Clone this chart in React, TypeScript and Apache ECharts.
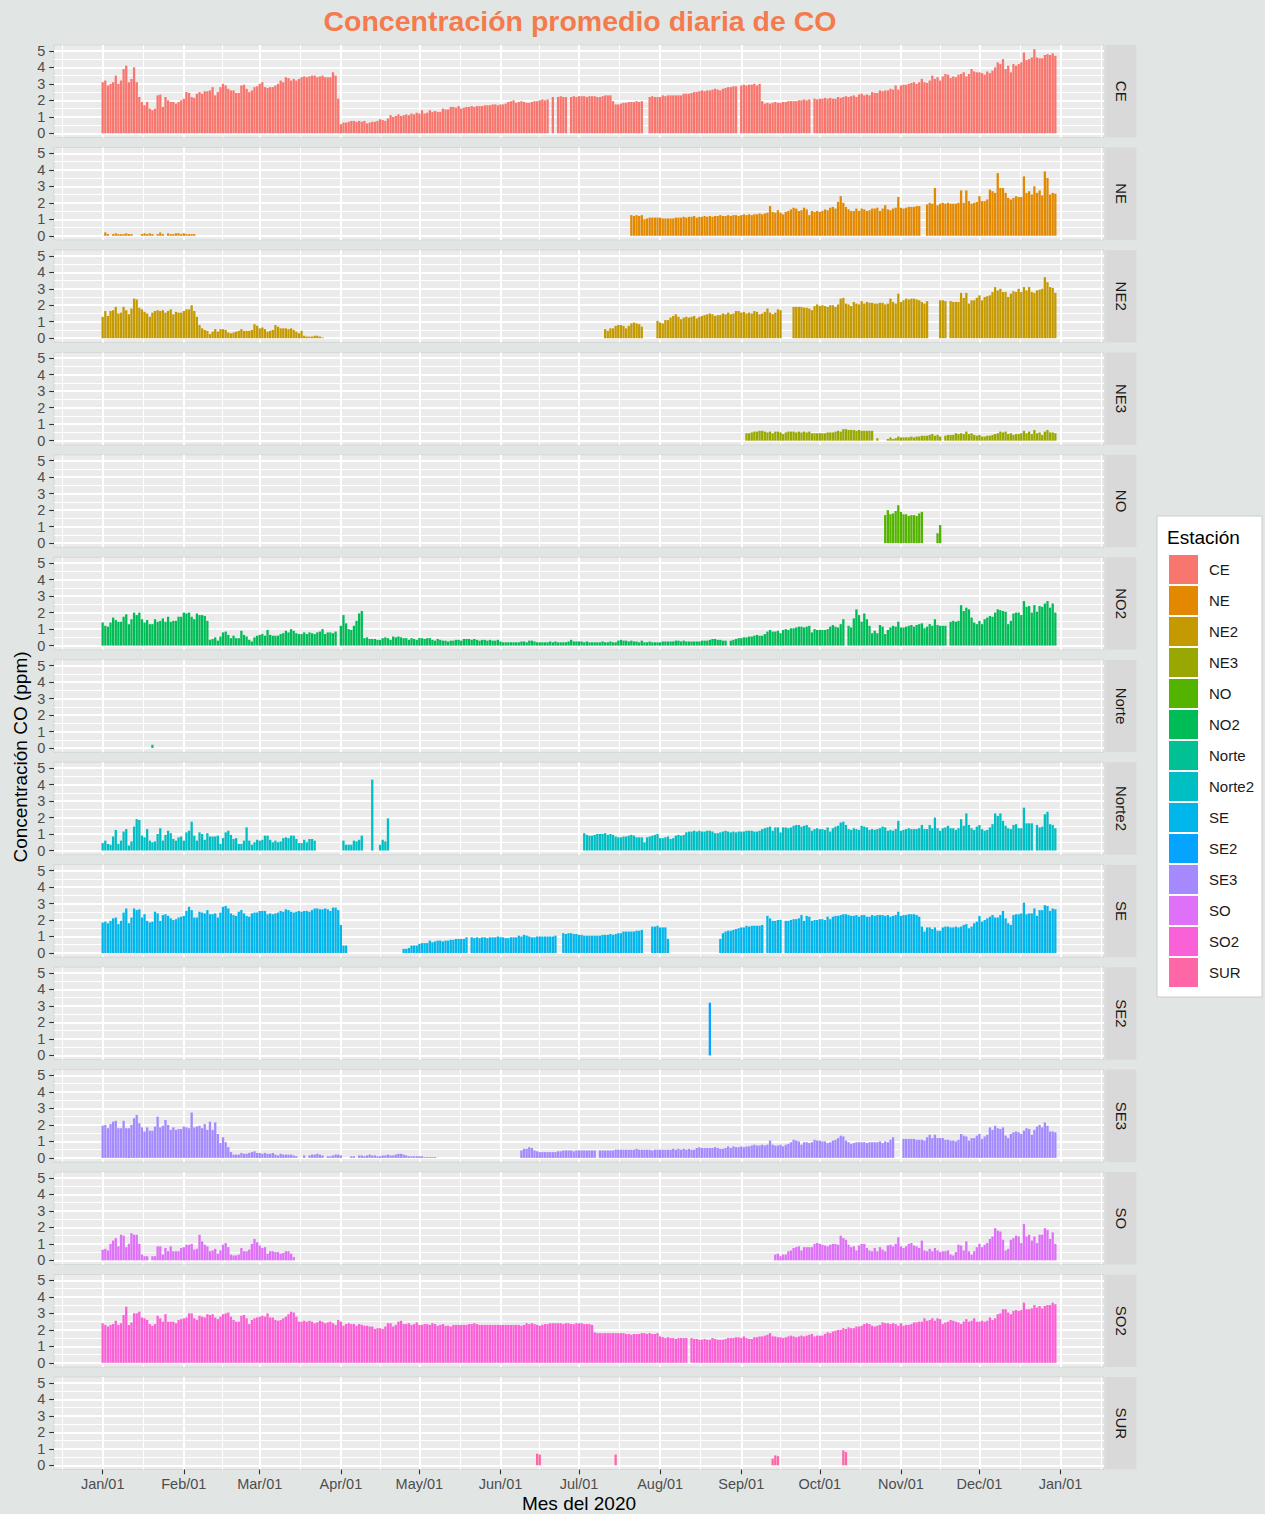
import React, { useEffect, useRef } from "react";
import * as echarts from "echarts";

// ---------- axes / categories ----------
const STATIONS = ["CE", "NE", "NE2", "NE3", "NO", "NO2", "Norte", "Norte2", "SE", "SE2", "SE3", "SO", "SO2", "SUR"];
const COLORS = ["#F8766D", "#E38900", "#C49A00", "#99A800", "#53B400", "#00BC56", "#00C094", "#00BFC4", "#00B6EB", "#06A4FF", "#A58AFF", "#DF70F8", "#FB61D7", "#FF66A8"];
const MONTH_LEN = [31, 29, 31, 30, 31, 30, 31, 31, 30, 31, 30, 31];
const MONTH_TICKS = [0, 31, 60, 91, 121, 152, 182, 213, 244, 274, 305, 335, 366];
const MONTH_LABELS = ["Jan/01", "Feb/01", "Mar/01", "Apr/01", "May/01", "Jun/01", "Jul/01", "Aug/01", "Sep/01", "Oct/01", "Nov/01", "Dec/01", "Jan/01"];
const MINOR_TICKS = [-15.5, 15.5, 45.5, 75.5, 106, 136.5, 167, 197.5, 228.5, 259, 289.5, 320, 350.5, 381.5];
const Y_TICKS = [0, 1, 2, 3, 4, 5];
const Y_MINOR = [0.5, 1.5, 2.5, 3.5, 4.5];

// ---------- daily values (ppm), one string per month, "_" = no data, "_N" = N days without data ----------
const CE = [
  "3.1 3.2 2.9 3.0 3.1 3.5 3.0 3.2 3.9 4.1 3.1 3.3 4.0 3.1 2.2 1.9 1.7 1.9 1.5 1.4 1.5 2.3 2.35 1.6 2.2 2.0 1.9 1.9 1.8 1.9 2.0",
  "2.1 2.5 2.45 2.2 2.15 2.4 2.5 2.4 2.55 2.55 2.6 2.8 2.3 2.5 2.8 3.0 2.9 2.7 2.6 2.6 2.45 2.45 2.9 2.95 2.7 2.5 2.6 2.8 2.85",
  "3.0 3.1 2.8 2.75 2.8 2.8 2.9 3.0 3.2 3.1 3.4 3.35 3.2 3.3 3.2 3.3 3.4 3.45 3.4 3.45 3.5 3.5 3.4 3.45 3.5 3.4 3.4 3.4 3.7 3.5 2.1",
  "0.55 0.65 0.65 0.7 0.75 0.75 0.7 0.75 0.7 0.75 0.6 0.65 0.7 0.7 0.75 0.85 0.8 0.75 0.9 1.1 1.0 1.05 1.15 1.05 1.1 1.15 1.1 1.2 1.15 1.25",
  "1.2 1.4 1.2 1.25 1.4 1.3 1.35 1.3 1.3 1.5 1.45 1.45 1.6 1.6 1.55 1.65 1.5 1.55 1.6 1.6 1.65 1.6 1.65 1.65 1.65 1.7 1.7 1.7 1.75 1.75 1.7",
  "1.75 1.75 1.8 1.9 1.95 2.0 1.85 1.9 1.95 1.9 1.85 1.85 1.9 1.95 1.95 2.0 2.05 2.0 2.05 _ 2.2 _ 2.2 2.25 2.2 2.2 _ 2.2 2.25 2.2",
  "2.25 2.25 2.25 2.2 2.25 2.25 2.25 2.2 2.2 2.25 2.3 2.3 2.3 1.95 1.75 1.75 1.8 1.85 1.85 1.9 1.9 1.9 1.95 1.9 1.95 _ _ 2.2 2.25 2.2 2.2",
  "2.2 2.3 2.25 2.3 2.3 2.3 2.3 2.3 2.3 2.4 2.4 2.4 2.45 2.5 2.5 2.55 2.6 2.55 2.6 2.6 2.65 2.7 2.65 2.6 2.7 2.75 2.8 2.8 2.85 2.85 _",
  "2.9 2.95 2.9 2.95 2.95 3.0 2.9 3.0 1.95 1.8 1.85 1.8 1.85 1.9 1.85 1.85 1.9 1.9 1.95 1.95 1.95 1.95 2.0 2.0 2.05 2.0 2.05 _ 2.1 2.05",
  "2.1 2.1 2.15 2.1 2.15 2.1 2.1 2.2 2.15 2.2 2.25 2.2 2.25 2.3 2.2 2.35 2.4 2.3 2.35 2.3 2.5 2.45 2.45 2.6 2.55 2.6 2.6 2.7 2.65 2.9 2.65",
  "2.9 2.95 2.95 3.0 3.05 3.1 3.0 3.1 3.3 3.1 3.05 3.2 3.5 3.3 3.4 3.2 3.45 3.6 3.55 3.35 3.45 3.4 3.55 3.6 3.7 3.45 3.6 3.9 3.75 3.7",
  "3.7 3.65 3.55 3.75 3.65 3.8 4.0 4.3 4.2 4.5 3.9 4.1 3.7 4.2 4.1 4.2 4.3 4.9 4.45 4.5 4.6 5.1 4.6 4.55 4.55 4.75 4.8 4.75 4.85 4.7 _",
];
const NE = [
  "_ 0.2 0.1 _ 0.1 0.15 0.1 0.1 0.1 0.15 0.1 0.1 _ _ _ 0.1 0.15 0.1 0.15 0.1 _ 0.1 0.2 0.1 _ 0.15 0.1 0.1 0.15 0.15 0.1",
  "0.15 0.1 0.1 0.1 0.1 _24",
  "_", "_", "_", "_",
  "_20 1.25 1.2 1.25 1.2 1.25 1.0 1.05 1.1 1.1 1.1 1.1",
  "1.1 1.05 1.05 1.05 1.05 1.05 1.1 1.1 1.1 1.15 1.1 1.15 1.15 1.2 1.1 1.15 1.15 1.2 1.15 1.2 1.15 1.2 1.2 1.25 1.2 1.2 1.25 1.2 1.25 1.25 1.2",
  "1.25 1.3 1.25 1.3 1.25 1.3 1.3 1.35 1.3 1.35 1.4 1.8 1.45 1.4 1.55 1.4 1.3 1.45 1.5 1.6 1.7 1.65 1.5 1.55 1.7 1.6 1.25 1.5 1.45 1.5",
  "1.45 1.5 1.6 1.55 1.7 1.75 1.65 2.05 2.4 2.0 1.75 1.6 1.5 1.5 1.65 1.5 1.65 1.6 1.5 1.55 1.65 1.65 1.7 1.5 1.65 1.85 1.6 1.55 1.65 1.7 2.35",
  "1.7 1.65 1.7 1.75 1.75 1.75 1.8 1.8 _ _ 1.9 2.0 1.95 2.9 1.85 1.95 2.0 1.95 2.0 1.95 1.95 1.95 2.0 2.75 2.0 2.75 2.1 1.95 2.0 2.05",
  "2.4 2.1 2.1 2.2 2.8 2.7 2.6 3.8 2.9 2.9 2.6 2.3 2.2 2.3 2.4 2.35 2.35 3.6 2.6 2.7 2.5 3.0 2.6 2.75 2.45 3.9 3.5 2.5 2.6 2.55 _",
];
const NE2 = [
  "1.3 1.65 1.35 1.65 1.7 1.9 1.5 1.55 1.9 1.7 1.45 1.8 2.4 2.35 1.85 1.75 1.6 1.5 1.3 1.55 1.65 1.7 1.65 1.7 1.55 1.65 1.75 1.45 1.6 1.55 1.55",
  "1.65 1.75 1.75 2.0 1.65 1.3 0.8 0.6 0.5 0.45 0.25 0.4 0.55 0.4 0.55 0.55 0.5 0.35 0.3 0.35 0.4 0.45 0.55 0.45 0.45 0.45 0.5 0.85 0.75",
  "0.6 0.65 0.55 0.4 0.45 0.5 0.8 0.7 0.6 0.6 0.6 0.55 0.6 0.5 0.4 0.3 0.45 0.15 0.1 0.1 0.1 0.15 0.15 0.1 0.05 _6",
  "_", "_", "_",
  "_10 0.55 0.45 0.6 0.6 0.75 0.8 0.8 0.75 0.6 0.75 0.9 0.95 0.9 0.85 0.7 _5 1.05",
  "0.95 0.9 1.1 1.1 1.25 1.35 1.45 1.3 1.15 1.25 1.3 1.25 1.3 1.35 1.2 1.3 1.35 1.4 1.45 1.5 1.45 1.35 1.4 1.4 1.5 1.45 1.55 1.45 1.5 1.65 1.65",
  "1.55 1.6 1.5 1.55 1.5 1.65 1.6 1.45 1.5 1.6 1.8 1.55 1.45 1.55 1.75 1.7 _4 1.9 1.9 1.9 1.9 1.85 1.85 1.8 1.7 1.95 2.05",
  "1.95 2.0 1.95 1.9 2.0 2.0 1.9 2.05 2.4 2.45 2.1 2.05 1.95 2.2 2.1 2.05 2.25 2.1 2.2 2.15 2.15 2.1 2.1 2.15 2.15 2.05 2.1 2.4 2.2 2.1 2.7",
  "2.2 2.3 2.4 2.35 2.4 2.4 2.35 2.3 2.2 2.1 2.25 _4 2.3 2.3 2.25 _ 2.25 2.2 2.2 2.2 2.75 2.45 2.75 2.1 2.3 2.3 2.45",
  "2.6 2.3 2.5 2.55 2.6 2.8 3.1 2.9 3.0 2.8 2.8 2.5 2.7 2.85 2.8 3.0 2.8 3.1 2.9 3.1 2.8 2.75 2.9 2.95 3.0 3.7 3.4 3.1 3.05 2.75 _",
];
const NE3 = [
  "_", "_", "_", "_", "_", "_", "_", "_",
  "_ _ 0.45 0.45 0.5 0.55 0.55 0.6 0.6 0.55 0.5 0.55 0.45 0.55 0.55 0.5 0.4 0.5 0.55 0.55 0.55 0.5 0.55 0.5 0.55 0.5 0.55 0.45 0.45 0.45",
  "0.45 0.45 0.45 0.5 0.5 0.5 0.55 0.6 0.55 0.7 0.7 0.65 0.65 0.65 0.6 0.65 0.6 0.6 0.6 0.6 0.6 _ 0.15 _3 0.1 0.2 0.1 0.15 0.25",
  "0.2 0.2 0.2 0.2 0.25 0.2 0.25 0.25 0.3 0.3 0.3 0.35 0.4 0.3 0.35 0.25 _ 0.3 0.35 0.35 0.35 0.45 0.4 0.45 0.4 0.55 0.4 0.45 0.35 0.3",
  "0.35 0.25 0.25 0.3 0.3 0.35 0.4 0.45 0.55 0.5 0.55 0.4 0.45 0.35 0.4 0.4 0.45 0.6 0.45 0.55 0.4 0.65 0.45 0.5 0.35 0.55 0.65 0.5 0.5 0.45 _",
];
const NO = [
  "_", "_", "_", "_", "_", "_", "_", "_", "_",
  "_25 1.7 2.0 1.75 1.8 1.95 2.3",
  "1.9 1.75 1.75 1.65 1.7 1.7 1.65 1.8 1.9 _5 0.6 1.1",
  "_",
];
const NO2 = [
  "1.4 1.2 1.15 1.4 1.7 1.55 1.45 1.45 1.75 1.9 1.3 1.6 2.0 1.85 2.0 1.6 1.4 1.55 1.3 1.3 1.6 1.45 1.5 1.65 1.45 1.75 1.45 1.5 1.5 1.75 1.75",
  "2.0 1.95 2.0 1.75 1.6 1.95 1.85 1.85 1.8 1.5 0.35 0.4 0.5 0.3 0.55 0.8 0.85 0.65 0.45 0.6 0.45 0.45 0.9 0.65 0.55 0.35 0.25 0.5 0.6",
  "0.65 0.7 0.6 0.95 0.65 0.6 0.6 0.6 0.7 0.75 0.9 0.8 1.0 0.9 0.75 0.7 0.7 0.8 0.7 0.8 0.75 0.7 0.8 0.85 1.0 0.7 0.8 0.8 0.75 0.85 _",
  "1.2 1.85 1.35 1.0 0.95 1.2 1.5 1.95 2.1 0.45 0.5 0.4 0.4 0.4 0.35 0.35 0.45 0.5 0.45 0.35 0.55 0.5 0.55 0.5 0.45 0.45 0.35 0.45 0.4 0.35",
  "0.45 0.45 0.4 0.45 0.45 0.35 0.3 0.4 0.35 0.3 0.3 0.25 0.3 0.3 0.35 0.35 0.3 0.4 0.4 0.4 0.35 0.4 0.35 0.3 0.35 0.35 0.3 0.35 0.3 0.3 0.35",
  "0.25 0.2 0.2 0.2 0.2 0.2 0.2 0.2 0.25 0.25 0.2 0.3 0.3 0.25 0.2 0.2 0.2 0.2 0.2 0.25 0.2 0.25 0.2 0.2 0.2 0.2 0.25 0.35 0.25 0.25",
  "0.25 0.25 0.2 0.25 0.2 0.2 0.2 0.2 0.2 0.25 0.2 0.2 0.25 0.2 0.2 0.3 0.35 0.3 0.3 0.25 0.3 0.25 0.25 0.2 0.3 0.2 0.2 0.25 0.2 0.2 0.2",
  "0.2 0.25 0.25 0.25 0.25 0.25 0.3 0.3 0.25 0.3 0.25 0.25 0.25 0.25 0.25 0.25 0.3 0.3 0.3 0.35 0.4 0.4 0.35 0.35 0.3 0.3 _ 0.3 0.35 0.4 0.45",
  "0.45 0.5 0.5 0.55 0.55 0.6 0.65 0.6 0.6 0.7 0.85 0.95 0.85 0.85 0.9 0.75 0.95 1.0 0.95 1.05 1.05 1.1 1.15 1.15 1.1 1.15 1.2 0.8 1.0 0.95",
  "0.95 0.95 0.95 1.0 1.15 1.25 1.15 1.1 1.3 1.6 _ 1.2 1.1 1.65 2.2 1.85 1.45 1.95 1.6 1.2 0.75 0.9 0.75 1.25 1.15 0.7 0.95 1.1 1.2 1.15 1.45",
  "1.1 1.1 1.15 1.2 1.25 1.15 1.25 1.3 1.35 1.05 1.15 1.3 1.2 1.6 1.25 1.2 1.2 1.2 _ 1.45 1.5 1.45 1.5 2.45 2.1 2.3 2.2 1.7 1.4 1.3",
  "1.5 1.3 1.6 1.7 1.8 1.75 2.0 2.2 2.15 2.1 2.05 1.3 1.5 1.95 2.0 2.0 1.85 2.7 2.35 2.4 2.0 2.45 2.05 2.4 2.35 2.55 2.7 2.3 2.55 2.0 _",
];
const NORTE = ["_19 0.2 _11", "_", "_", "_", "_", "_", "_", "_", "_", "_", "_", "_"];
const NORTE2 = [
  "0.45 0.6 0.4 0.35 0.85 1.25 0.4 0.6 1.15 1.3 0.3 0.55 1.45 1.9 1.85 0.9 0.8 1.3 0.6 0.5 0.55 1.0 1.35 0.6 0.95 1.2 1.05 0.7 0.6 0.8 0.85",
  "0.6 1.1 1.2 1.75 0.9 0.6 1.1 1.0 0.65 1.05 0.85 0.85 0.85 0.9 0.4 0.75 1.1 1.2 0.95 0.7 0.75 0.4 0.4 0.6 1.4 0.6 0.35 0.5 0.65",
  "0.6 0.65 0.9 0.9 0.65 0.5 0.6 0.5 0.55 0.75 0.8 0.75 0.9 0.9 0.7 0.45 0.45 0.65 0.5 0.7 0.7 0.6 _9",
  "_ 0.6 0.35 0.35 0.35 0.6 0.55 0.65 0.9 _3 4.3 _2 0.35 0.65 0.55 1.95 _11",
  "_", "_",
  "_2 1.05 0.95 0.9 0.9 0.95 1.0 1.0 1.0 1.05 0.95 1.0 0.95 0.85 0.8 0.8 0.85 0.85 0.9 0.95 0.9 0.8 0.8 0.8 0.5 0.8 0.85 0.9 0.95 1.0",
  "0.75 0.75 0.8 0.85 0.7 0.75 0.9 0.95 0.9 0.95 1.1 1.15 1.15 1.2 1.15 1.2 1.15 1.15 1.2 1.2 1.15 1.05 1.05 1.1 1.15 1.2 1.15 1.1 1.15 1.1 1.15",
  "1.15 1.15 1.2 1.2 1.2 1.15 1.15 1.2 1.3 1.35 1.4 1.45 1.2 1.4 1.4 1.1 1.4 1.4 1.35 1.4 1.5 1.55 1.55 1.45 1.5 1.55 1.4 1.2 1.3 1.35",
  "1.3 1.3 1.25 1.4 1.15 1.35 1.45 1.5 1.7 1.75 1.55 1.3 1.25 1.35 1.3 1.25 1.5 1.45 1.4 1.25 1.3 1.25 1.3 1.35 1.45 1.4 1.2 1.25 1.2 1.3 1.8",
  "1.2 1.25 1.3 1.35 1.3 1.3 1.3 1.35 1.55 1.3 1.3 1.55 1.35 2.0 1.35 1.2 1.35 1.4 1.5 1.35 1.35 1.25 1.35 1.9 1.5 2.25 1.55 1.35 1.25 1.45",
  "1.55 1.3 1.2 1.25 1.4 1.6 2.25 2.1 2.25 1.8 1.5 1.35 1.3 1.55 1.6 1.35 1.35 2.6 1.65 1.65 1.65 _ 1.55 1.4 1.45 2.2 2.35 1.6 1.55 1.35 _",
];
const SE = [
  "1.85 1.9 1.8 1.95 2.1 2.15 1.75 1.95 2.45 2.7 1.8 2.15 2.7 2.6 2.65 2.15 2.35 1.95 1.85 1.9 2.5 2.4 1.95 2.3 2.35 2.25 2.1 2.0 2.05 2.15 2.2",
  "2.25 2.55 2.8 2.6 2.15 2.15 2.5 2.45 2.4 2.6 2.35 2.35 2.4 2.15 2.45 2.8 2.85 2.7 2.4 2.3 2.25 2.5 2.6 2.4 2.25 2.2 2.4 2.45 2.45",
  "2.55 2.55 2.55 2.35 2.4 2.35 2.4 2.45 2.55 2.5 2.65 2.6 2.5 2.45 2.5 2.55 2.5 2.55 2.55 2.5 2.6 2.7 2.7 2.65 2.65 2.7 2.65 2.55 2.75 2.75 2.6",
  "1.7 0.45 0.45 _21 0.25 0.25 0.3 0.45 0.45 0.45",
  "0.55 0.6 0.6 0.6 0.75 0.65 0.7 0.75 0.75 0.7 0.75 0.75 0.8 0.8 0.85 0.85 0.85 0.85 0.95 _ 0.95 0.9 0.95 0.9 0.95 0.95 0.9 0.95 0.95 0.95 1.0",
  "0.95 0.95 0.9 0.9 0.95 0.95 0.95 1.05 1.0 1.1 1.05 1.0 0.95 0.95 1.0 1.0 1.0 1.0 1.0 1.0 1.0 1.05 _ _ 1.2 1.15 1.2 1.2 1.15 1.15",
  "1.1 1.1 1.05 1.05 1.05 1.05 1.05 1.05 1.05 1.1 1.1 1.1 1.15 1.1 1.15 1.2 1.2 1.3 1.3 1.3 1.3 1.3 1.35 1.35 1.4 _ _ _ 1.6 1.6 1.65",
  "1.55 1.55 1.55 0.85 _19 0.85 1.2 1.3 1.35 1.35 1.4 1.45 1.5",
  "1.55 1.55 1.65 1.6 1.65 1.65 1.65 1.65 1.7 _ 2.25 2.1 1.95 1.95 2.0 2.0 _ 1.95 1.95 2.0 2.05 2.05 2.1 2.3 1.95 2.25 2.2 1.95 2.0 2.0",
  "2.05 2.05 2.0 2.2 2.05 2.2 2.25 2.25 2.3 2.35 2.35 2.3 2.25 2.25 2.3 2.2 2.3 2.3 2.2 2.2 2.3 2.25 2.3 2.3 2.3 2.25 2.3 2.2 2.25 2.3 2.5",
  "2.25 2.3 2.3 2.35 2.35 2.35 2.3 2.2 1.6 1.3 1.55 1.55 1.45 1.55 1.35 1.35 1.55 1.6 1.6 1.55 1.55 1.6 1.55 1.6 1.7 1.75 1.5 1.6 1.8 1.9",
  "2.25 1.9 2.0 2.1 2.2 2.3 2.15 2.15 2.3 2.55 2.1 1.8 1.7 2.3 2.35 2.35 2.4 3.05 2.35 2.4 2.4 2.7 2.25 2.6 2.6 2.9 2.85 2.55 2.7 2.65 _",
];
const SE2 = ["_", "_", "_", "_", "_", "_", "_", "_19 3.2 _11", "_", "_", "_", "_"];
const SE3 = [
  "1.95 2.0 1.8 2.05 2.2 2.25 1.8 1.8 2.25 1.8 1.8 2.0 2.4 2.6 2.1 1.85 1.6 1.85 1.65 1.65 1.9 2.5 1.85 1.95 2.3 2.0 1.7 1.85 1.7 1.75 1.75",
  "1.9 1.85 1.8 2.75 1.85 1.9 1.95 1.8 2.05 1.7 2.2 1.7 2.15 1.45 0.9 1.25 0.95 0.65 0.35 0.2 0.2 0.2 0.3 0.25 0.25 0.3 0.35 0.4 0.3",
  "0.3 0.25 0.3 0.25 0.25 0.3 0.2 0.15 0.25 0.2 0.2 0.2 0.2 0.15 0.1 _ _ 0.15 _ 0.15 0.2 0.2 0.25 0.2 0.15 _ 0.1 0.1 0.15 0.2 0.2",
  "0.15 _ _ _ 0.1 0.1 _ 0.15 0.15 0.1 0.15 0.2 0.15 0.15 0.1 0.1 0.15 0.15 0.2 0.15 0.15 0.2 0.25 0.25 0.2 0.15 0.1 0.1 0.1 0.1",
  "0.1 0.1 0.05 0.05 0.05 0.05 0.05 _24",
  "_8 0.45 0.55 0.55 0.65 0.6 0.45 0.4 0.35 0.35 0.35 0.35 0.35 0.35 0.35 0.4 0.4 0.45 0.45 0.45 0.45 0.4 0.45",
  "0.45 0.45 0.45 0.45 0.45 0.45 0.45 _ 0.45 0.45 0.45 0.45 0.45 0.45 0.5 0.5 0.5 0.5 0.5 0.5 0.5 0.5 0.55 0.5 0.5 0.5 0.5 0.5 0.45 0.5 0.5",
  "0.5 0.5 0.5 0.5 0.5 0.55 0.5 0.55 0.5 0.55 0.5 0.55 0.5 0.5 0.6 0.65 0.6 0.6 0.6 0.6 0.6 0.65 0.6 0.55 0.55 0.6 0.7 0.6 0.7 0.65 0.65",
  "0.7 0.65 0.7 0.7 0.75 0.8 0.75 0.75 0.8 0.75 0.8 1.05 0.8 0.75 0.75 0.8 0.7 0.8 0.85 0.95 1.1 1.05 1.0 0.8 0.95 0.95 0.9 0.95 1.1 1.05",
  "1.05 1.0 1.0 0.9 0.95 1.05 1.1 1.2 1.35 1.3 1.05 0.95 0.85 0.9 0.95 0.95 0.95 0.95 0.9 0.95 0.95 0.95 0.95 1.0 0.9 1.0 0.95 1.1 1.25 _ _",
  "_ 1.15 1.15 1.15 1.15 1.15 1.1 1.1 1.1 1.05 1.25 1.4 1.2 1.4 1.2 1.2 1.2 1.1 1.1 1.05 1.05 1.0 1.1 1.45 1.35 1.3 1.05 1.2 1.2 1.35",
  "1.45 1.15 1.3 1.4 1.85 1.7 1.95 1.8 1.75 1.85 1.35 1.2 1.45 1.55 1.6 1.55 1.45 1.65 1.8 1.75 1.4 1.7 1.9 2.0 1.85 2.15 1.95 1.6 1.6 1.55 _",
];
const SO = [
  "0.65 0.7 0.6 1.0 1.2 1.35 0.85 1.55 1.5 0.8 1.0 1.65 1.55 1.55 1.0 0.35 0.25 0.25 _ 0.25 0.25 0.85 0.85 0.35 0.75 0.55 0.85 0.55 0.55 0.55 0.75",
  "0.8 0.95 0.95 1.0 0.65 0.7 1.55 1.15 0.95 0.85 0.55 0.6 0.7 0.4 0.6 0.95 1.05 0.8 0.35 0.3 0.3 0.35 0.75 0.55 0.55 0.65 1.0 1.3 1.1",
  "0.9 0.75 0.8 0.4 0.55 0.55 0.5 0.5 0.4 0.45 0.55 0.55 0.4 0.2 _17",
  "_", "_", "_", "_", "_",
  "_13 0.35 0.4 0.25 0.35 0.35 0.55 0.6 0.75 0.8 0.85 0.6 0.8 0.8 0.8 0.8 1.0 1.05",
  "1.0 0.95 0.9 0.85 0.95 1.0 1.0 0.95 1.5 1.35 1.25 0.95 0.8 0.85 0.6 0.9 1.0 1.0 0.75 0.6 0.55 0.75 0.55 0.8 0.65 0.55 0.9 0.95 0.85 1.0 1.4",
  "0.85 0.75 0.85 1.0 1.05 0.9 0.85 0.75 1.2 0.6 0.55 0.7 0.55 0.75 0.6 0.5 0.55 0.55 0.6 0.35 0.3 0.5 0.95 0.9 0.6 1.15 0.55 0.35 0.55 0.8",
  "1.0 0.8 0.95 1.05 1.3 1.45 1.95 1.8 1.75 1.25 0.6 0.7 1.25 1.35 1.5 1.45 1.05 2.2 1.45 1.55 1.2 1.45 1.05 1.55 1.55 1.95 1.85 1.3 1.7 1.0 _",
];
const SO2 = [
  "2.4 2.3 2.2 2.3 2.35 2.55 2.3 2.4 2.9 3.4 2.3 2.45 3.0 3.0 3.1 2.75 2.7 2.6 2.35 2.25 2.35 2.85 2.7 2.5 2.95 2.5 2.5 2.5 2.4 2.6 2.65",
  "2.7 2.75 3.0 3.0 2.7 2.6 2.85 2.8 2.75 2.95 2.9 2.95 2.75 2.65 2.8 2.95 3.0 3.05 2.8 2.6 2.5 2.5 2.85 2.9 2.7 2.35 2.6 2.7 2.75",
  "2.8 2.85 2.8 3.0 2.75 2.75 2.6 2.55 2.6 2.7 2.8 2.95 3.1 3.05 2.8 2.5 2.5 2.55 2.5 2.55 2.5 2.4 2.45 2.55 2.5 2.4 2.45 2.5 2.4 2.3 2.6",
  "2.5 2.25 2.35 2.4 2.35 2.35 2.25 2.35 2.3 2.25 2.25 2.2 2.2 2.05 2.1 2.1 2.05 2.2 2.4 2.4 2.2 2.3 2.5 2.55 2.35 2.35 2.4 2.3 2.35 2.45",
  "2.3 2.3 2.35 2.35 2.3 2.4 2.35 2.25 2.3 2.35 2.25 2.25 2.2 2.3 2.3 2.3 2.3 2.3 2.3 2.35 2.35 2.4 2.35 2.3 2.3 2.3 2.3 2.3 2.3 2.3 2.3",
  "2.3 2.3 2.3 2.3 2.3 2.3 2.3 2.3 2.25 2.3 2.4 2.35 2.4 2.35 2.3 2.25 2.3 2.35 2.35 2.4 2.4 2.4 2.4 2.4 2.35 2.4 2.4 2.35 2.35 2.4",
  "2.4 2.4 2.35 2.35 2.35 2.3 1.85 1.8 1.8 1.8 1.8 1.8 1.8 1.8 1.8 1.8 1.8 1.8 1.75 1.75 1.7 1.75 1.75 1.75 1.8 1.8 1.75 1.8 1.75 1.75 1.8",
  "1.6 1.55 1.5 1.55 1.5 1.5 1.45 1.5 1.5 1.5 1.5 _ 1.5 1.45 1.45 1.4 1.4 1.45 1.4 1.4 1.5 1.45 1.4 1.4 1.4 1.45 1.5 1.5 1.5 1.55 1.55",
  "1.5 1.6 1.5 1.45 1.45 1.55 1.55 1.6 1.6 1.65 1.7 1.8 1.6 1.6 1.55 1.55 1.5 1.55 1.6 1.65 1.6 1.55 1.6 1.65 1.6 1.65 1.7 1.75 1.6 1.65",
  "1.65 1.65 1.75 1.85 1.8 1.9 1.95 2.0 2.0 2.1 2.05 2.15 2.1 2.1 2.2 2.2 2.25 2.35 2.4 2.35 2.25 2.2 2.25 2.3 2.45 2.4 2.4 2.35 2.4 2.35 2.25",
  "2.4 2.25 2.3 2.3 2.35 2.45 2.45 2.5 2.5 2.7 2.55 2.6 2.7 2.55 2.7 2.65 2.35 2.45 2.5 2.6 2.55 2.5 2.45 2.35 2.5 2.65 2.5 2.55 2.7 2.5",
  "2.5 2.55 2.5 2.55 2.75 2.6 2.7 2.95 3.0 3.25 3.25 3.05 2.95 3.15 3.2 3.15 3.2 3.65 3.25 3.25 3.3 3.5 3.35 3.45 3.3 3.45 3.5 3.5 3.65 3.55 _",
];
const SUR = [
  "_", "_", "_", "_", "_",
  "_14 0.7 0.65 _14",
  "_14 0.65 _16",
  "_",
  "_12 0.4 0.6 0.55 _15",
  "_9 0.9 0.8 _20",
  "_", "_",
];
const STATION_DATA = [CE, NE, NE2, NE3, NO, NO2, NORTE, NORTE2, SE, SE2, SE3, SO, SO2, SUR];

// ---------- layout ----------
const FONT = '"Liberation Sans", Arial, Helvetica, sans-serif';
const PANEL_TOP = 45;
const PANEL_STEP = 102.46;
const PANEL_H = 92.5;
const PLOT_LEFT = 54;
const PLOT_W = 1050;
const X_MIN = -18.6;
const X_MAX = 382.6;
const Y_MIN = -0.255;
const Y_MAX = 5.355;

function parseStation(months: string[]): (number | null)[] {
  const out: (number | null)[] = [];
  for (let m = 0; m < 12; m++) {
    const src = months[m] ?? "_";
    const vals: (number | null)[] = [];
    for (const t of src.trim().split(/\s+/)) {
      if (!t) continue;
      if (t[0] === "_") {
        const n = t.length > 1 ? parseInt(t.slice(1), 10) : 1;
        for (let k = 0; k < n; k++) vals.push(null);
      } else vals.push(parseFloat(t));
    }
    while (vals.length < MONTH_LEN[m]) vals.push(null);
    vals.length = MONTH_LEN[m];
    out.push(...vals);
  }
  return out;
}

function buildOption() {
  const N = STATIONS.length;
  const tops = STATIONS.map((_, i) => PANEL_TOP + i * PANEL_STEP);
  const grid = tops.map((t) => ({
    left: PLOT_LEFT, top: t, width: PLOT_W, height: PANEL_H,
    show: true, backgroundColor: "#EBEBEB", borderColor: "#D2D2D2", borderWidth: 0.8,
    containLabel: false, outerBoundsMode: "none",
  }));
  const hidden = { color: "rgba(0,0,0,0)" };
  const noLine = { show: false, onZero: false };
  const xMinor = STATIONS.map((_, i) => ({
    type: "value", gridIndex: i, min: X_MIN, max: X_MAX, position: "top", z: 0,
    axisLine: noLine,
    axisTick: { show: true, customValues: MINOR_TICKS, length: 0, lineStyle: hidden },
    axisLabel: { show: false, customValues: MINOR_TICKS },
    splitLine: { show: true, lineStyle: { color: "#FFFFFF", width: 1 } },
  }));
  const xMajor = STATIONS.map((_, i) => ({
    type: "value", gridIndex: i, min: X_MIN, max: X_MAX, position: "bottom", z: 1,
    axisLine: noLine,
    axisTick: {
      show: true, customValues: MONTH_TICKS, length: i === N - 1 ? 4.8 : 0,
      lineStyle: i === N - 1 ? { color: "#333333", width: 1.1 } : hidden,
    },
    axisLabel: {
      show: i === N - 1, customValues: MONTH_TICKS, margin: 7, color: "#4D4D4D", fontSize: 14.5, fontFamily: FONT,
      formatter: (v: number) => {
        const k = MONTH_TICKS.findIndex((d) => Math.abs(d - v) < 0.01);
        return k >= 0 ? MONTH_LABELS[k] : "";
      },
    },
    splitLine: { show: true, lineStyle: { color: "#FFFFFF", width: 2 } },
  }));
  const yMinor = STATIONS.map((_, i) => ({
    type: "value", gridIndex: i, min: Y_MIN, max: Y_MAX, position: "right", z: 0,
    axisLine: noLine,
    axisTick: { show: true, customValues: Y_MINOR, length: 0, lineStyle: hidden },
    axisLabel: { show: false, customValues: Y_MINOR },
    splitLine: { show: true, lineStyle: { color: "#FFFFFF", width: 1 } },
  }));
  const yMajor = STATIONS.map((_, i) => ({
    type: "value", gridIndex: i, min: Y_MIN, max: Y_MAX, position: "left", z: 1,
    axisLine: noLine,
    axisTick: { show: true, customValues: Y_TICKS, length: 4.8, lineStyle: { color: "#333333", width: 1.1 } },
    axisLabel: { show: true, customValues: Y_TICKS, margin: 8.6, color: "#4D4D4D", fontSize: 14.5, fontFamily: FONT },
    splitLine: { show: true, lineStyle: { color: "#FFFFFF", width: 2 } },
  }));

  const series = STATIONS.map((name, i) => {
    const vals = parseStation(STATION_DATA[i]);
    const data: [number, number][] = [];
    vals.forEach((v, d) => { if (v !== null && !isNaN(v)) data.push([d, v]); });
    return {
      type: "bar", name, xAxisIndex: N + i, yAxisIndex: N + i, data,
      barWidth: 2.3, itemStyle: { color: COLORS[i] }, z: 3, silent: true,
    };
  });

  const graphics: any[] = [];
  graphics.push({
    type: "text", x: 580, y: 21, z: 10,
    style: { text: "Concentración promedio diaria de CO", fill: "#F47B4D", font: `bold 28.5px ${FONT}`,
      align: "center", verticalAlign: "middle", textAlign: "center", textVerticalAlign: "middle" },
  });
  graphics.push({
    type: "text", x: 20, y: 757, rotation: Math.PI / 2, z: 10,
    style: { text: "Concentración CO (ppm)", fill: "#000000", font: `19px ${FONT}`,
      align: "center", verticalAlign: "middle", textAlign: "center", textVerticalAlign: "middle" },
  });
  graphics.push({
    type: "text", x: 579, y: 1503, z: 10,
    style: { text: "Mes del 2020", fill: "#000000", font: `19px ${FONT}`,
      align: "center", verticalAlign: "middle", textAlign: "center", textVerticalAlign: "middle" },
  });
  tops.forEach((t, i) => {
    graphics.push({
      type: "rect", z: 1, shape: { x: 1105.5, y: t, width: 31, height: PANEL_H },
      style: { fill: "#D9D9D9", stroke: "none" },
    });
    graphics.push({
      type: "text", x: 1121, y: t + PANEL_H / 2, rotation: -Math.PI / 2, z: 10,
      style: { text: STATIONS[i], fill: "#1A1A1A", font: `15px ${FONT}`,
        align: "center", verticalAlign: "middle", textAlign: "center", textVerticalAlign: "middle" },
    });
  });
  graphics.push({
    type: "rect", z: 0, shape: { x: 1157, y: 516, width: 105, height: 481 },
    style: { fill: "#FFFFFF", stroke: "#CCCCCC", lineWidth: 1 },
  });
  graphics.push({
    type: "text", x: 1167, y: 537, z: 10,
    style: { text: "Estación", fill: "#000000", font: `19px ${FONT}`,
      align: "left", verticalAlign: "middle", textAlign: "left", textVerticalAlign: "middle" },
  });

  return {
    animation: false,
    backgroundColor: "#E1E6E5",
    textStyle: { fontFamily: FONT },
    grid,
    xAxis: [...xMinor, ...xMajor],
    yAxis: [...yMinor, ...yMajor],
    series,
    legend: {
      show: true, orient: "vertical", left: 1169, top: 555,
      itemWidth: 29, itemHeight: 29, itemGap: 2, icon: "rect", selectedMode: false,
      data: STATIONS, padding: 0, z: 20,
      textStyle: { fontSize: 15, color: "#1A1A1A", fontFamily: FONT, padding: [0, 0, 0, 6] },
    },
    graphic: { elements: graphics },
  };
}

export default function App() {
  const ref = useRef<HTMLDivElement>(null);
  useEffect(() => {
    if (!ref.current) return;
    const chart = echarts.init(ref.current, null, { renderer: "svg" });
    chart.setOption(buildOption() as any);
    return () => chart.dispose();
  }, []);
  return <div ref={ref} style={{ position: "absolute", left: 0, top: 0, width: 1265, height: 1514 }} />;
}
